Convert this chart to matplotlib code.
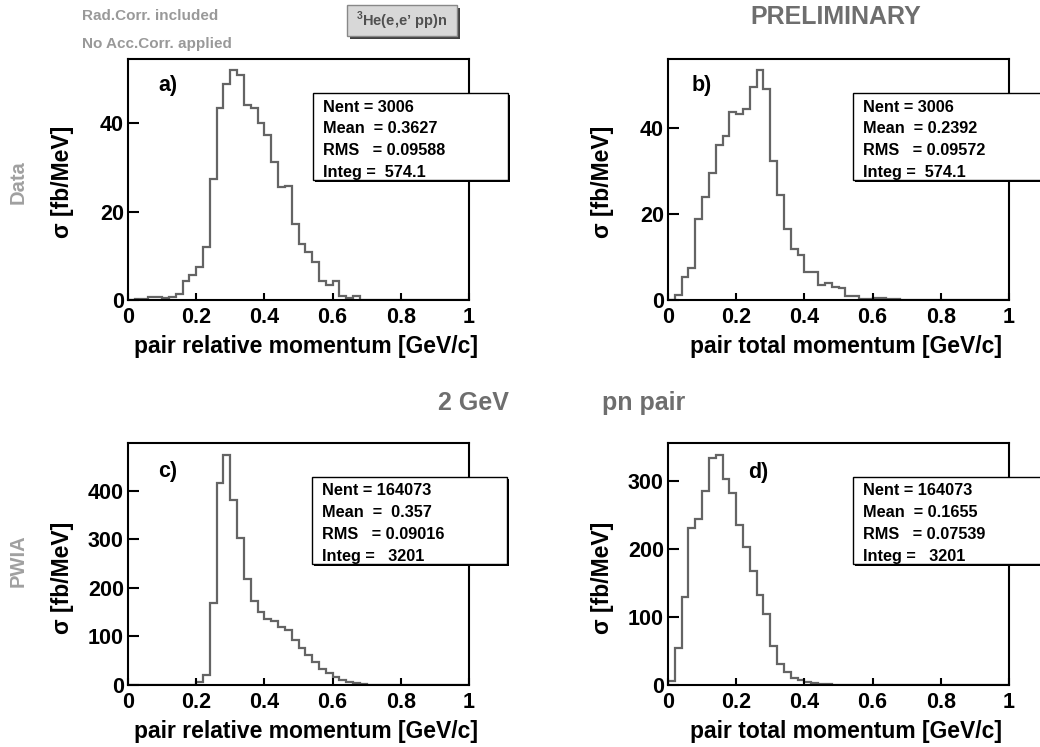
import numpy as np
import matplotlib
matplotlib.use("Agg")
import matplotlib.pyplot as plt
from matplotlib.patches import Rectangle

plt.rcParams['font.family'] = ['Liberation Sans', 'DejaVu Sans']
plt.rcParams['font.weight'] = 'bold'
plt.rcParams['mathtext.fontset'] = 'custom'
plt.rcParams['mathtext.rm'] = 'Liberation Sans:bold'
plt.rcParams['mathtext.bf'] = 'Liberation Sans:bold'

# 50 bins of 0.02 GeV/c between 0 and 1
bin_edges = np.linspace(0, 1, 51)

data_rel = [0.0, 0.2, 0.3, 0.6, 0.6, 0.4, 0.6, 1.4, 4.2, 5.7,
            7.4, 12.1, 27.5, 43.6, 49.0, 52.0, 51.0, 44.2, 43.4, 40.2,
            37.3, 31.3, 25.5, 25.8, 17.3, 12.7, 10.8, 8.6, 4.4, 3.3,
            4.2, 0.8, 0.5, 0.8, 0.1, 0.0, 0.0, 0.1, 0.1, 0.0,
            0, 0, 0, 0, 0, 0, 0, 0, 0, 0]
data_tot = [0.0, 1.2, 5.3, 7.4, 18.8, 24.0, 29.6, 36.0, 38.0, 43.7,
            43.1, 44.3, 49.4, 53.3, 49.0, 32.3, 24.3, 16.5, 11.8, 10.5,
            6.6, 6.6, 3.5, 3.9, 3.1, 2.7, 0.9, 0.9, 0.2, 0.2,
            0.5, 0.5, 0.2, 0.2, 0, 0, 0, 0, 0, 0,
            0, 0, 0, 0, 0, 0, 0, 0, 0, 0]
pwia_rel = [0, 0, 0, 0, 0, 0, 0, 0, 0, 0,
            7, 20.6, 170, 417, 475, 381, 302, 218, 174, 151,
            135, 132, 120, 113, 93, 75.5, 62, 48, 34, 25,
            16, 10, 5.5, 3.4, 1.4, 0.7, 0.3, 0, 0, 0,
            0, 0, 0, 0, 0, 0, 0, 0, 0, 0]
pwia_tot = [6, 54, 130, 231, 244, 285, 334, 339, 303, 282,
            235, 203, 168, 133, 105, 57, 31, 18.6, 11, 7,
            5, 3, 2, 1, 0.5, 0, 0, 0, 0, 0,
            0, 0, 0, 0, 0, 0, 0, 0, 0, 0,
            0, 0, 0, 0, 0, 0, 0, 0, 0, 0]

panel_tags = ["a)", "b)", "c)", "d)"]
x_titles = ["pair relative momentum [GeV/c]", "pair total momentum [GeV/c]",
            "pair relative momentum [GeV/c]", "pair total momentum [GeV/c]"]
stats = [
    ["Nent = 3006", "Mean  = 0.3627", "RMS   = 0.09588", "Integ =  574.1"],
    ["Nent = 3006", "Mean  = 0.2392", "RMS   = 0.09572", "Integ =  574.1"],
    ["Nent = 164073", "Mean  =  0.357", "RMS   = 0.09016", "Integ =   3201"],
    ["Nent = 164073", "Mean  = 0.1655", "RMS   = 0.07539", "Integ =   3201"],
]

W, H = 1040, 747
def fx(px):
    return px / W
def fy(py):
    return 1 - py / H

fig = plt.figure(figsize=(W / 100, H / 100), dpi=100)
fig.patch.set_facecolor('white')

# axes boxes in pixels: left, top, right, bottom
frames = [(128, 59, 469, 300), (668, 59, 1009, 300),
          (128, 443, 469, 685), (668, 443, 1009, 685)]
hists = [data_rel, data_tot, pwia_rel, pwia_tot]
y_ticks = [[0, 20, 40], [0, 20, 40], [0, 100, 200, 300, 400], [0, 100, 200, 300]]
tag_pos = [(0.117, 0.888), (0.10, 0.888), (0.117, 0.884), (0.264, 0.88)]
box_pos = [(313, 93), (853, 93), (312, 477), (853, 477)]

for i in range(4):
    l, t, r, b = frames[i]
    ax = fig.add_axes([fx(l), fy(b), (r - l) / W, (b - t) / H])
    vals = np.array(hists[i])
    ax.stairs(vals, bin_edges, color='#646464', lw=1.6)
    ax.set_xlim(0, 1)
    ax.set_ylim(0, 1.05 * vals.max())
    ax.set_xticks([0, 0.2, 0.4, 0.6, 0.8, 1])
    ax.set_xticklabels(["0", "0.2", "0.4", "0.6", "0.8", "1"])
    ax.set_yticks(y_ticks[i])
    ax.tick_params(axis='x', direction='in', length=5, width=1.5, pad=5, labelsize=15.5)
    ax.tick_params(axis='y', direction='in', length=8, width=1.5, pad=3, labelsize=15.5)
    for s in ax.spines.values():
        s.set_linewidth(1.5)
    ax.text(tag_pos[i][0], tag_pos[i][1], panel_tags[i], transform=ax.transAxes,
            fontsize=15.5, ha='center', va='center')

    # x / y titles
    fig.text(fx((l + r) / 2 + 8), fy(b + 53), x_titles[i], ha='center',
             va='baseline', fontsize=16.5)
    ycen = 182 if i < 2 else 578
    fig.text(fx(l - 66), fy(ycen), "σ [fb/MeV]", rotation=90, ha='center',
             va='center', fontsize=16.5)

    # stat box with shadow
    bx, by = box_pos[i]
    bw, bh = 195, 87
    fig.patches.append(Rectangle((fx(bx + 2), fy(by + bh + 2)), bw / W, bh / H,
                                 transform=fig.transFigure, facecolor='black',
                                 edgecolor='none', zorder=5))
    fig.patches.append(Rectangle((fx(bx), fy(by + bh)), bw / W, bh / H,
                                 transform=fig.transFigure, facecolor='white',
                                 edgecolor='black', lw=1.0, zorder=6))
    for k, line in enumerate(stats[i]):
        fig.text(fx(bx + 10), fy(by + 14 + 21.7 * k), line, fontsize=11.7,
                 ha='left', va='center', zorder=7)

# header notes
fig.text(fx(82), fy(16), "Rad.Corr. included", fontsize=11, color='#999999',
         ha='left', va='center')
fig.text(fx(82), fy(44), "No Acc.Corr. applied", fontsize=11, color='#999999',
         ha='left', va='center')
fig.text(fx(750), fy(17), "PRELIMINARY", fontsize=18, color='#6e6e6e',
         ha='left', va='center')
fig.text(fx(438), fy(410), "2 GeV", fontsize=18, color='#6e6e6e',
         ha='left', va='baseline')
fig.text(fx(602), fy(410), "pn pair", fontsize=18, color='#6e6e6e',
         ha='left', va='baseline')
fig.text(fx(18), fy(182), "Data", fontsize=14.5, color='#a0a0a0', rotation=90,
         ha='center', va='center')
fig.text(fx(18), fy(561), "PWIA", fontsize=14.5, color='#a0a0a0', rotation=90,
         ha='center', va='center')

# reaction label box
fig.patches.append(Rectangle((fx(350), fy(39)), 110 / W, 31 / H,
                             transform=fig.transFigure, facecolor='#404040',
                             edgecolor='none', zorder=5))
fig.patches.append(Rectangle((fx(347), fy(36)), 110 / W, 31 / H,
                             transform=fig.transFigure, facecolor='#d8d8d8',
                             edgecolor='#888888', lw=1.0, zorder=6))
fig.text(fx(402), fy(21), r"$^{3}$He(e,e’ pp)n", fontsize=10.5, color='#505050',
         ha='center', va='center', zorder=7)

fig.savefig("out.png", dpi=100, facecolor='white')
